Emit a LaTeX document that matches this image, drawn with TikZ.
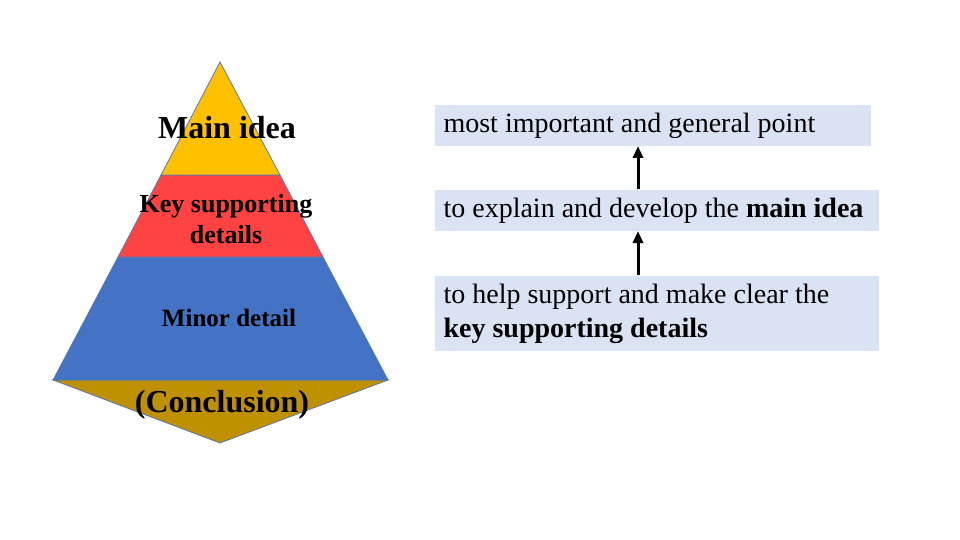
\documentclass[tikz,border=0pt]{standalone}
\usepackage{fontspec}
\setmainfont{Liberation Serif}
\usetikzlibrary{arrows.meta}
\definecolor{yel}{HTML}{FFC000}
\definecolor{redb}{HTML}{FF4343}
\definecolor{blu}{HTML}{4472C4}
\definecolor{olv}{HTML}{BF9000}
\definecolor{edge}{HTML}{5A7AB0}
\definecolor{boxf}{HTML}{DAE3F3}
\tikzset{band/.style={draw=edge,line width=0.8pt},
 lbl/.style={font=\bfseries\fontsize{32}{34}\selectfont,align=center},
 info/.style={fill=boxf,anchor=north west,inner sep=0pt},
 itext/.style={anchor=west,font=\fontsize{28}{34}\selectfont,align=left},
 arr/.style={-{Triangle[length=12pt,width=10pt]},line width=3pt}}
\begin{document}
\begin{tikzpicture}[x=1pt,y=-1pt]
\useasboundingbox (0,0) rectangle (960,540);
\fill[olv,band] (53,380) -- (388,380) -- (220,443) -- cycle;
\fill[blu,band] (118,257) -- (323,257) -- (388,380) -- (53,380) -- cycle;
\fill[redb,band] (161,175) -- (280,175) -- (323,257) -- (118,257) -- cycle;
\fill[yel,band] (220,62) -- (280,175) -- (161,175) -- cycle;
\node[lbl] (mi) at (227,128) {Main idea};
\node[lbl,font=\bfseries\fontsize{26}{31}\selectfont] (ks) at (226,219) {Key supporting\\details};
\node[lbl,font=\bfseries\fontsize{25}{26}\selectfont] (md) at (229,318) {Minor detail};
\node[lbl,font=\bfseries\fontsize{32}{34}\selectfont] (cc) at (222,405) {(Conclusion)};
\fill[boxf] (435,105) rectangle (871,146);
\fill[boxf] (435,190) rectangle (879,231);
\fill[boxf] (435,276) rectangle (879,351);
\node[itext] (t1) at (440,126) {most important and general point};
\node[itext] (t2) at (440,211) {to explain and develop the \textbf{main idea}};
\node[itext] (t3) at (440,314) {to help support and make clear the\\\textbf{key supporting details}};
\coordinate (a1s) at (638,189); \coordinate (a1e) at (638,146);
\coordinate (a2s) at (638,275); \coordinate (a2e) at (638,231);
\draw[arr] (a1s) -- (a1e);
\draw[arr] (a2s) -- (a2e);
\end{tikzpicture}
\end{document}
